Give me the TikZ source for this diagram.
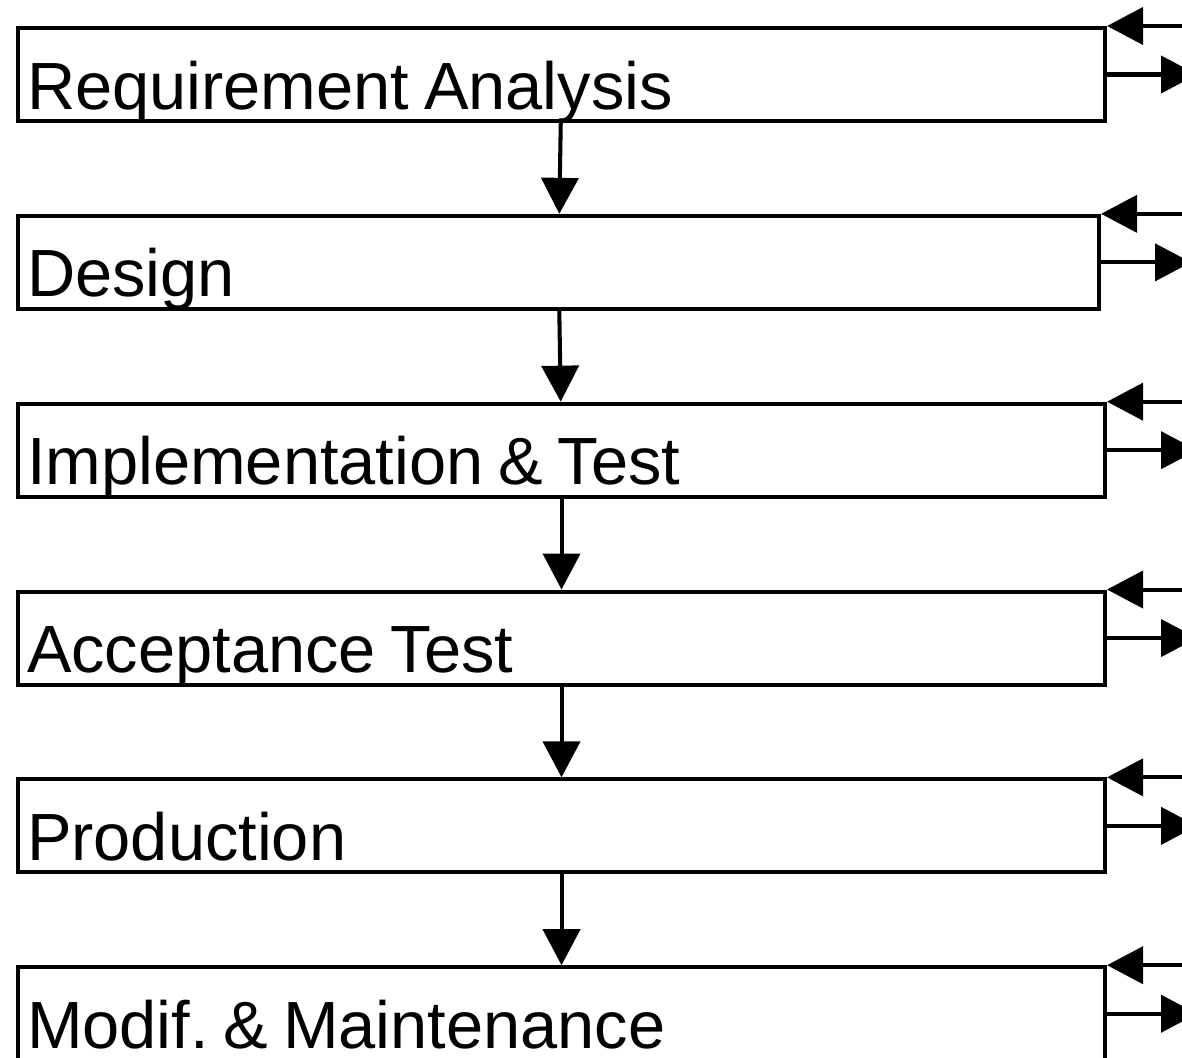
\documentclass[tikz,border=0pt]{standalone}
\usepackage{fontspec}
\setmainfont[WordSpace=0.8]{Liberation Sans}
\usetikzlibrary{positioning,arrows.meta}
\tikzset{
 phase/.style={draw, line width=2.3pt, minimum width=21.74cm, text width=21.38cm, align=flush left,
   inner xsep=0.18cm, inner ysep=0pt, text height=1.62cm, text depth=0.24cm,
   font=\fontsize{38}{45}\selectfont\frenchspacing},
 flow/.style={line width=2.3pt, -{Triangle[length=0.72cm,width=0.74cm]}}
}
\begin{document}
\begin{tikzpicture}[node distance=1.816cm]
 \useasboundingbox (0,0) rectangle (23.64,-21.16);
 \clip (0,0) rectangle (23.64,-21.16);
 \node [phase, anchor=north west] (req) at (0.32,-0.52) {Requirement Analysis};
 \node [phase, minimum width=21.62cm, text width=21.26cm, below=of req.south west, anchor=north west] (des) {Design};
 \node [phase, below=of des.south west, anchor=north west] (imp) {Implementation \& Test};
 \node [phase, below=of imp.south west, anchor=north west] (acc) {Acceptance Test};
 \node [phase, below=of acc.south west, anchor=north west] (pro) {Production};
 \node [phase, below=of pro.south west, anchor=north west] (mod) {Modif. \& Maintenance};
 \draw [flow] (req) -- (des);
 \draw [flow] (des) -- (imp);
 \draw [flow] (imp) -- (acc);
 \draw [flow] (acc) -- (pro);
 \draw [flow] (pro) -- (mod);
 \foreach \n in {req,des,imp,acc,pro,mod}{
   \path (\n.north east) ++(1.8,0) coordinate (\n-in);
   \path (\n.east) ++(1.8,0) coordinate (\n-out);
   \draw [flow] (\n-in) -- (\n.north east);
   \draw [flow] (\n.east) -- (\n-out);
 }
\end{tikzpicture}
\end{document}
